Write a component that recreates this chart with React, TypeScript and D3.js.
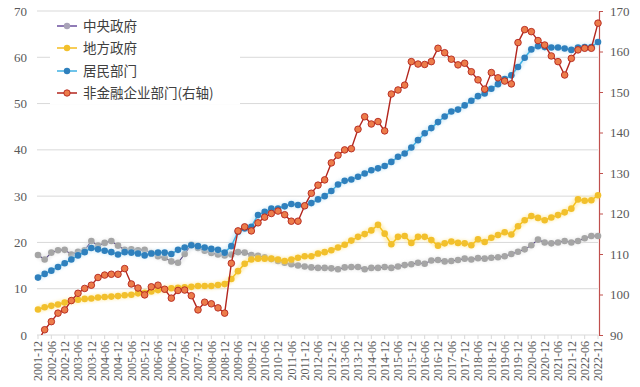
import React, { useEffect, useRef } from 'react';
import * as d3 from 'd3';

// quarterly categories, 2001-12 .. 2022-12
const quarters = [
  '2001-12',
  '2002-03', '2002-06', '2002-09', '2002-12',
  '2003-03', '2003-06', '2003-09', '2003-12',
  '2004-03', '2004-06', '2004-09', '2004-12',
  '2005-03', '2005-06', '2005-09', '2005-12',
  '2006-03', '2006-06', '2006-09', '2006-12',
  '2007-03', '2007-06', '2007-09', '2007-12',
  '2008-03', '2008-06', '2008-09', '2008-12',
  '2009-03', '2009-06', '2009-09', '2009-12',
  '2010-03', '2010-06', '2010-09', '2010-12',
  '2011-03', '2011-06', '2011-09', '2011-12',
  '2012-03', '2012-06', '2012-09', '2012-12',
  '2013-03', '2013-06', '2013-09', '2013-12',
  '2014-03', '2014-06', '2014-09', '2014-12',
  '2015-03', '2015-06', '2015-09', '2015-12',
  '2016-03', '2016-06', '2016-09', '2016-12',
  '2017-03', '2017-06', '2017-09', '2017-12',
  '2018-03', '2018-06', '2018-09', '2018-12',
  '2019-03', '2019-06', '2019-09', '2019-12',
  '2020-03', '2020-06', '2020-09', '2020-12',
  '2021-03', '2021-06', '2021-09', '2021-12',
  '2022-03', '2022-06', '2022-09', '2022-12',
];

// 中央政府 (left axis, %)
const central = [
  17.3, 16.3, 17.8, 18.3, 18.4, 17.4, 18.0, 18.3, 20.3, 19.3,
  19.9, 20.3, 19.3, 18.4, 18.5, 18.3, 18.4, 17.7, 17.0, 16.7,
  15.9, 15.6, 17.5, 19.5, 18.8, 18.2, 17.7, 17.4, 17.2, 17.4,
  17.9, 17.8, 17.3, 17.1, 16.8, 16.4, 16.0, 15.6, 15.3, 15.0,
  14.8, 14.6, 14.5, 14.5, 14.4, 14.2, 14.6, 14.7, 14.7, 14.2,
  14.5, 14.5, 14.7, 14.5, 14.8, 15.1, 15.3, 15.6, 15.4, 16.1,
  16.2, 15.9, 16.0, 16.2, 16.5, 16.3, 16.6, 16.5, 16.7, 16.8,
  17.0, 17.5, 18.0, 18.5, 19.4, 20.6, 20.0, 19.8, 20.0, 20.3,
  20.0, 20.3, 20.9, 21.4, 21.4,
];

// 地方政府 (left axis, %)
const local = [
  5.5, 6.0, 6.3, 6.6, 7.0, 7.4, 7.6, 7.8, 7.9, 8.1,
  8.2, 8.3, 8.4, 8.6, 8.7, 9.0, 9.1, 9.4, 9.7, 9.9,
  10.1, 10.2, 10.3, 10.4, 10.6, 10.6, 10.6, 10.8, 11.0, 12.1,
  13.8, 15.4, 16.3, 16.5, 16.5, 16.5, 16.3, 16.0, 16.3, 16.7,
  17.0, 17.0, 17.6, 17.9, 18.3, 18.9, 19.5, 20.4, 21.2, 21.8,
  22.6, 23.8, 21.9, 19.6, 21.2, 21.4, 19.9, 21.2, 21.2, 20.5,
  19.3, 19.8, 20.2, 19.9, 19.8, 19.4, 20.7, 20.1, 21.0, 21.6,
  22.2, 21.7, 23.5, 24.8, 25.7, 25.3, 24.8, 25.4, 25.9, 26.5,
  27.3, 29.3, 29.0, 29.1, 30.2,
];

// 居民部门 (left axis, %)
const household = [
  12.4, 13.2, 13.9, 14.7, 15.5, 16.3, 17.2, 17.9, 18.8, 18.5,
  18.2, 17.9, 17.4, 17.9, 17.8, 17.6, 17.2, 17.6, 17.8, 17.8,
  17.5, 18.4, 18.9, 19.4, 19.2, 18.9, 18.6, 18.4, 17.8, 19.2,
  22.3, 23.0, 23.4, 25.9, 26.6, 27.3, 27.3, 27.8, 28.3, 28.1,
  27.9, 28.5, 29.3, 30.0, 31.1, 32.5, 33.3, 33.6, 34.2, 34.9,
  35.6, 36.0, 36.5, 37.4, 38.5, 39.2, 40.5, 42.1, 43.6, 44.7,
  46.0, 47.2, 48.3, 48.7, 49.6, 50.6, 51.6, 52.2, 53.2, 54.2,
  55.3, 56.1, 57.9, 59.9, 61.7, 62.4, 62.2, 62.1, 62.1, 61.9,
  61.6, 62.1, 62.2, 62.2, 63.3,
];

// 非金融企业部门 (right axis, %)
const corporate = [
  88.5, 91.3, 93.3, 95.4, 96.2, 98.5, 100.3, 101.5, 102.3, 104.2,
  104.8, 105.0, 105.0, 106.4, 102.6, 101.6, 99.9, 101.9, 102.3, 101.3,
  99.1, 101.0, 101.1, 99.7, 96.2, 98.1, 97.7, 96.7, 95.4, 107.7,
  115.7, 116.7, 115.7, 117.7, 119.1, 120.0, 120.6, 119.7, 118.1, 118.1,
  121.9, 125.0, 127.0, 128.3, 132.5, 134.4, 135.7, 136.0, 140.8, 143.9,
  142.1, 142.7, 140.4, 149.5, 150.5, 151.7, 157.5, 156.9, 156.8, 157.5,
  160.8, 159.7, 158.1, 156.7, 157.1, 155.0, 153.0, 150.7, 154.8, 153.5,
  152.7, 152.0, 162.2, 165.4, 164.9, 162.7, 161.6, 158.9, 157.5, 154.2,
  158.3, 160.4, 160.8, 160.8, 167.0,
];

const leftTicks = [0, 10, 20, 30, 40, 50, 60, 70];
const rightTicks = [90, 100, 110, 120, 130, 140, 150, 160, 170];

const seriesNames = ['中央政府', '地方政府', '居民部门', '非金融企业部门(右轴)'];

const W = 640;
const H = 387;
const numFont = '"Liberation Serif", "DejaVu Serif", serif';
const cjkFont = '"Noto Sans CJK SC", "Liberation Serif", sans-serif';

const App: React.FC = () => {
  const svgRef = useRef<SVGSVGElement>(null);

  useEffect(() => {
    if (!svgRef.current) return;
    const svg = d3.select(svgRef.current);
    svg.selectAll('*').remove();

    const left = 37;
    const right = 598;
    const top = 11;
    const bottom = 335;

    const x = d3.scalePoint<string>().domain(quarters).range([left + 1, right]);
    const yL = d3.scaleLinear().domain([0, 70]).range([bottom, top]);
    const yR = d3.scaleLinear().domain([90, 170]).range([bottom, top]);

    const defs = svg.append('defs');
    defs.append('clipPath').attr('id', 'plot-clip')
      .append('rect')
      .attr('x', left - 6).attr('y', top - 6)
      .attr('width', right - left + 12).attr('height', bottom - top + 6);
    defs.append('filter').attr('id', 'glow')
      .attr('x', '-10%').attr('y', '-10%').attr('width', '120%').attr('height', '120%')
      .append('feGaussianBlur').attr('stdDeviation', 1.8);

    // grid lines
    svg.append('g')
      .selectAll('line')
      .data(leftTicks)
      .join('line')
      .attr('x1', left).attr('x2', right)
      .attr('y1', d => yL(d)).attr('y2', d => yL(d))
      .attr('stroke', '#d9d9d9').attr('stroke-width', 1);

    // left axis labels
    svg.append('g')
      .selectAll('text')
      .data(leftTicks)
      .join('text')
      .attr('x', 27).attr('y', d => yL(d))
      .attr('dy', '0.35em')
      .attr('text-anchor', 'end')
      .style('font-family', numFont).style('font-size', '13px')
      .attr('fill', '#595959')
      .text(d => d);

    // right axis
    const rAxis = svg.append('g').attr('transform', `translate(${right + 1},0)`);
    rAxis.call(
      d3.axisRight(yR).tickValues(rightTicks).tickSize(4).tickPadding(7)
    );
    rAxis.select('.domain').attr('stroke', '#c0504d').attr('stroke-width', 1.2);
    rAxis.selectAll('.tick line').attr('stroke', '#c0504d');
    rAxis.selectAll('.tick text')
      .style('font-family', numFont).style('font-size', '13px')
      .attr('fill', '#595959');

    // x axis ticks + rotated labels (every half year)
    const labelled = quarters.filter(q => q.endsWith('-06') || q.endsWith('-12'));
    svg.append('g')
      .selectAll('line')
      .data(labelled)
      .join('line')
      .attr('x1', d => x(d)!).attr('x2', d => x(d)!)
      .attr('y1', bottom).attr('y2', bottom + 4)
      .attr('stroke', '#d9d9d9');
    svg.append('g')
      .selectAll('text')
      .data(labelled)
      .join('text')
      .attr('transform', d => `translate(${x(d)},${bottom + 6}) rotate(-90)`)
      .attr('text-anchor', 'end')
      .attr('dy', '0.35em')
      .style('font-family', numFont).style('font-size', '12px')
      .attr('fill', '#595959')
      .text(d => d);

    const plot = svg.append('g').attr('clip-path', 'url(#plot-clip)');

    const drawSeries = (
      values: number[],
      y: d3.ScaleLinear<number, number>,
      lineColor: string,
      lineWidth: number,
      dotFill: string,
      dotStroke: string | null,
      glow: string | null
    ) => {
      const line = d3.line<number>()
        .x((_, i) => x(quarters[i])!)
        .y(d => y(d));
      if (glow) {
        plot.append('path')
          .datum(values)
          .attr('fill', 'none')
          .attr('stroke', glow)
          .attr('stroke-width', 7)
          .attr('stroke-linejoin', 'round')
          .attr('opacity', 0.55)
          .attr('filter', 'url(#glow)')
          .attr('d', line);
      }
      plot.append('path')
        .datum(values)
        .attr('fill', 'none')
        .attr('stroke', lineColor)
        .attr('stroke-width', lineWidth)
        .attr('d', line);
      plot.append('g')
        .selectAll('circle')
        .data(values)
        .join('circle')
        .attr('cx', (_, i) => x(quarters[i])!)
        .attr('cy', d => y(d))
        .attr('r', 3.3)
        .attr('fill', dotFill)
        .attr('stroke', dotStroke ?? 'none')
        .attr('stroke-width', 0.9);
    };

    drawSeries(central, yL, '#5b4a86', 1.1, '#a5a5a5', null, '#e3e3e3');
    drawSeries(local, yL, '#f7c21a', 1.5, '#f2c02c', null, '#ffe58a');
    drawSeries(household, yL, '#41b3e6', 1.5, '#2f80bd', null, '#bfe3f6');
    drawSeries(corporate, yR, '#b3261e', 1.4, '#ec7c4a', '#b3261e', null);

    // legend
    const legendColors = [
      { line: '#6b4f9e', fill: '#a9a3b8', stroke: null },
      { line: '#f5bd1f', fill: '#f2c02c', stroke: null },
      { line: '#3fb0e3', fill: '#2f80bd', stroke: null },
      { line: '#b3261e', fill: '#ec7c4a', stroke: '#b3261e' },
    ];
    const legend = svg.append('g');
    legend.append('rect')
      .attr('x', 50).attr('y', 14).attr('width', 190).attr('height', 90)
      .attr('fill', '#ffffff');
    const rowY = [26, 48, 71, 93];
    seriesNames.forEach((name, i) => {
      const c = legendColors[i];
      const g = legend.append('g').attr('transform', `translate(0,${rowY[i]})`);
      g.append('line')
        .attr('x1', 57).attr('x2', 77)
        .attr('stroke', c.line).attr('stroke-width', 1.5);
      g.append('circle')
        .attr('cx', 67).attr('r', 3.2)
        .attr('fill', c.fill)
        .attr('stroke', c.stroke ?? 'none').attr('stroke-width', 0.9);
      g.append('text')
        .attr('x', 83).attr('dy', '0.36em')
        .style('font-family', cjkFont).style('font-size', '13.5px')
        .attr('fill', '#404040')
        .text(name);
    });
  }, []);

  return (
    <svg
      ref={svgRef}
      width={W}
      height={H}
      style={{ position: 'absolute', left: 0, top: 0, background: '#ffffff' }}
    />
  );
};

export default App;
